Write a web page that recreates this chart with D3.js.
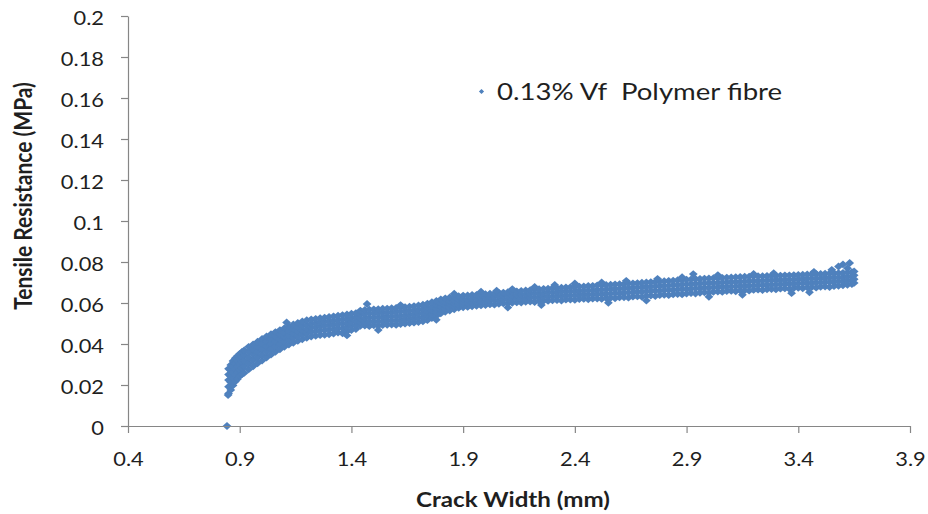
<!DOCTYPE html>
<html>
<head>
<meta charset="utf-8">
<script src="https://cdn.jsdelivr.net/npm/d3@7"></script>
<style>
  html, body { margin: 0; padding: 0; background: #fff; }
  svg { display: block; }
</style>
</head>
<body>
<div id="chart"></div>
<script>
// ---- data -------------------------------------------------------------------
const xTickValues = [0.4, 0.9, 1.4, 1.9, 2.4, 2.9, 3.4, 3.9];
const yTickValues = [0, 0.02, 0.04, 0.06, 0.08, 0.1, 0.12, 0.14, 0.16, 0.18, 0.2];
const yTickLabels = ["0", "0.02", "0.04", "0.06", "0.08", "0.1", "0.12", "0.14", "0.16", "0.18", "0.2"];

const seriesName = "0.13% Vf  Polymer fibre";
const xTitle = "Crack Width (mm)";
const yTitle = "Tensile Resistance (MPa)";

// each row: crack width (mm), then the tensile resistance readings (MPa) at that width
const bandRows = [
  [0.85, .0158, .0192, .0224, .0251, .0279],
  [0.86, .0176, .0213, .0243, .0271, .0298],
  [0.87, .0198, .0232, .0262, .0291, .0317],
  [0.88, .0217, .0249, .0278, .0306, .0331],
  [0.89, .0229, .0262, .0291, .0318, .0341],
  [0.90, .0243, .0274, .0302, .0329, .0352],
  [0.91, .0252, .0283, .0311, .0337, .0361],
  [0.92, .0259, .0291, .0319, .0346, .0369],
  [0.94, .0276, .0306, .0334, .0361, .0386],
  [0.96, .0291, .0321, .0349, .0374, .0398],
  [0.98, .0306, .0335, .0362, .0387, .0411],
  [1.00, .0319, .0348, .0375, .0401, .0425],
  [1.02, .0334, .0362, .0388, .0413, .0437],
  [1.04, .0348, .0376, .0401, .0425, .0448],
  [1.06, .0362, .0389, .0413, .0436, .0458],
  [1.08, .0374, .0401, .0424, .0447, .0468],
  [1.10, .0386, .0412, .0434, .0456, .0477],
  [1.12, .0397, .0421, .0443, .0464, .0486],
  [1.14, .0406, .0430, .0452, .0473, .0495],
  [1.16, .0415, .0438, .0460, .0481, .0503],
  [1.18, .0423, .0446, .0467, .0488, .0510],
  [1.20, .0430, .0452, .0473, .0494, .0516],
  [1.22, .0436, .0458, .0479, .0499, .0520],
  [1.24, .0440, .0462, .0483, .0503, .0523],
  [1.26, .0443, .0465, .0486, .0506, .0526],
  [1.28, .0445, .0468, .0489, .0509, .0529],
  [1.30, .0447, .0470, .0491, .0511, .0532],
  [1.32, .0451, .0473, .0494, .0514, .0535],
  [1.34, .0456, .0477, .0497, .0517, .0538],
  [1.36, .0452, .0476, .0499, .0520, .0541],
  [1.38, .0461, .0483, .0503, .0523, .0544],
  [1.40, .0468, .0489, .0508, .0527, .0548],
  [1.42, .0473, .0493, .0512, .0531, .0551],
  [1.44, .0488, .0506, .0525, .0545, .0563],
  [1.46, .0490, .0508, .0527, .0547, .0566],
  [1.48, .0487, .0507, .0528, .0549, .0568],
  [1.50, .0491, .0510, .0530, .0550, .0569],
  [1.52, .0489, .0509, .0530, .0551, .0570],
  [1.54, .0492, .0512, .0532, .0552, .0572],
  [1.56, .0494, .0513, .0533, .0553, .0573],
  [1.58, .0495, .0515, .0535, .0555, .0575],
  [1.60, .0493, .0514, .0535, .0556, .0576],
  [1.62, .0497, .0517, .0537, .0558, .0578],
  [1.64, .0499, .0519, .0539, .0560, .0580],
  [1.66, .0502, .0522, .0542, .0562, .0582],
  [1.68, .0504, .0524, .0544, .0564, .0585],
  [1.70, .0507, .0527, .0547, .0567, .0588],
  [1.72, .0511, .0531, .0551, .0571, .0592],
  [1.74, .0516, .0536, .0556, .0576, .0597],
  [1.76, .0526, .0545, .0563, .0582, .0604],
  [1.78, .0537, .0555, .0572, .0590, .0610],
  [1.80, .0549, .0566, .0582, .0598, .0618],
  [1.82, .0557, .0573, .0589, .0605, .0623],
  [1.84, .0563, .0578, .0594, .0609, .0627],
  [1.86, .0569, .0583, .0598, .0612, .0630],
  [1.88, .0576, .0589, .0602, .0616, .0633],
  [1.90, .0579, .0592, .0605, .0619, .0636],
  [1.92, .0581, .0599, .0617, .0637],
  [1.94, .0584, .0602, .0620, .0639],
  [1.96, .0586, .0604, .0622, .0640],
  [1.98, .0588, .0606, .0624, .0642],
  [2.00, .0590, .0608, .0626, .0643],
  [2.02, .0593, .0611, .0628, .0645],
  [2.04, .0592, .0612, .0630, .0647],
  [2.06, .0596, .0614, .0632, .0649],
  [2.08, .0598, .0616, .0634, .0651],
  [2.10, .0597, .0617, .0635, .0653],
  [2.12, .0601, .0619, .0637, .0655],
  [2.14, .0603, .0621, .0639, .0657],
  [2.16, .0602, .0622, .0640, .0659],
  [2.18, .0606, .0624, .0642, .0661],
  [2.20, .0607, .0626, .0644, .0663],
  [2.22, .0605, .0626, .0646, .0665],
  [2.24, .0609, .0628, .0647, .0667],
  [2.26, .0611, .0630, .0649, .0669],
  [2.28, .0610, .0631, .0651, .0670],
  [2.30, .0613, .0632, .0652, .0672],
  [2.32, .0614, .0634, .0653, .0673],
  [2.34, .0612, .0634, .0655, .0675],
  [2.36, .0616, .0636, .0656, .0676],
  [2.38, .0617, .0637, .0657, .0677],
  [2.40, .0615, .0637, .0658, .0679],
  [2.42, .0619, .0639, .0659, .0680],
  [2.44, .0620, .0640, .0660, .0681],
  [2.46, .0618, .0640, .0661, .0683],
  [2.48, .0621, .0642, .0662, .0684],
  [2.50, .0622, .0643, .0664, .0686],
  [2.52, .0620, .0643, .0665, .0687],
  [2.54, .0624, .0645, .0666, .0688],
  [2.56, .0625, .0646, .0668, .0689],
  [2.58, .0623, .0647, .0669, .0691],
  [2.60, .0627, .0648, .0670, .0692],
  [2.62, .0628, .0650, .0672, .0693],
  [2.64, .0626, .0651, .0673, .0695],
  [2.66, .0631, .0652, .0674, .0696],
  [2.68, .0632, .0654, .0676, .0697],
  [2.70, .0630, .0655, .0677, .0699],
  [2.72, .0634, .0656, .0678, .0700],
  [2.74, .0636, .0658, .0680, .0702],
  [2.76, .0634, .0659, .0681, .0703],
  [2.78, .0638, .0660, .0683, .0705],
  [2.80, .0640, .0662, .0684, .0706],
  [2.82, .0638, .0663, .0685, .0708],
  [2.84, .0642, .0664, .0687, .0709],
  [2.86, .0644, .0666, .0688, .0711],
  [2.88, .0642, .0667, .0690, .0712],
  [2.90, .0646, .0668, .0691, .0714],
  [2.92, .0648, .0670, .0692, .0715],
  [2.94, .0646, .0671, .0694, .0717],
  [2.96, .0650, .0672, .0695, .0718],
  [2.98, .0652, .0674, .0696, .0719],
  [3.00, .0650, .0675, .0697, .0720],
  [3.02, .0654, .0676, .0698, .0721],
  [3.04, .0656, .0677, .0699, .0722],
  [3.06, .0654, .0678, .0700, .0723],
  [3.08, .0658, .0679, .0701, .0724],
  [3.10, .0659, .0680, .0702, .0725],
  [3.12, .0657, .0681, .0703, .0726],
  [3.14, .0661, .0682, .0704, .0727],
  [3.16, .0662, .0683, .0705, .0728],
  [3.18, .0660, .0684, .0706, .0729],
  [3.20, .0664, .0685, .0707, .0730],
  [3.22, .0665, .0686, .0708, .0731],
  [3.24, .0663, .0687, .0709, .0731],
  [3.26, .0667, .0688, .0710, .0732],
  [3.28, .0668, .0689, .0711, .0733],
  [3.30, .0666, .0690, .0712, .0733],
  [3.32, .0670, .0691, .0712, .0734],
  [3.34, .0671, .0692, .0713, .0735],
  [3.36, .0669, .0693, .0714, .0735],
  [3.38, .0673, .0694, .0715, .0736],
  [3.40, .0674, .0695, .0716, .0737],
  [3.42, .0672, .0696, .0717, .0738],
  [3.44, .0676, .0697, .0718, .0739],
  [3.46, .0677, .0698, .0719, .0740],
  [3.48, .0675, .0699, .0720, .0741],
  [3.50, .0679, .0700, .0721, .0742],
  [3.52, .0680, .0701, .0722, .0743],
  [3.54, .0678, .0702, .0723, .0744],
  [3.56, .0682, .0703, .0724, .0745],
  [3.58, .0684, .0705, .0725, .0746],
  [3.60, .0686, .0706, .0726, .0747],
  [3.62, .0689, .0708, .0728, .0749],
  [3.64, .0692, .0711, .0731, .0751],
  [3.65, .0698, .0716, .0735, .0754]
];

// scattered readings above / below the main band
const strayPoints = [
  [0.843, 0.0], [0.848, 0.0151],
  [1.11, 0.0505], [1.47, 0.0595], [1.62, 0.0590], [1.86, 0.0645], [1.98, 0.0655],
  [2.05, 0.0660], [2.12, 0.0668], [2.22, 0.0678], [2.31, 0.0688], [2.40, 0.0695],
  [2.52, 0.0700], [2.63, 0.0708], [2.77, 0.0718], [2.88, 0.0726], [2.93, 0.0741],
  [3.04, 0.0736], [3.20, 0.0742], [3.29, 0.0745], [3.47, 0.0752], [3.55, 0.0762],
  [3.58, 0.0778], [3.60, 0.0788], [3.63, 0.0795], [3.62, 0.0770],
  [1.38, 0.0442], [1.52, 0.0468], [1.78, 0.0518], [2.10, 0.0578], [2.25, 0.0590],
  [2.55, 0.0601], [2.72, 0.0612], [3.00, 0.0630], [3.15, 0.0640], [3.37, 0.0648],
  [3.45, 0.0652]
];

// ---- layout ------------------------------------------------------------------
const width = 928, height = 514;
const plot = {left: 128, right: 910, top: 16, bottom: 426};
const axisColor = "#868686";
const textColor = "#1f1f1f";
const markColor = "#4F81BD";
const stretch = 1.15;   // picture text is slightly wide
const fontFamily = "Lato, 'Open Sans', sans-serif";

const x = d3.scaleLinear([0.4, 3.9], [plot.left, plot.right]);
const y = d3.scaleLinear([0, 0.2], [plot.bottom, plot.top]);

const points = bandRows
  .flatMap(r => r.slice(1).map(v => [r[0], v]))
  .concat(strayPoints);

const diamond = (w, h) => `M0,${-h}L${w},0L0,${h}L${-w},0Z`;

const svg = d3.select("#chart").append("svg")
  .attr("width", width)
  .attr("height", height)
  .attr("viewBox", [0, 0, width, height])
  .style("background", "#fff")
  .attr("font-family", fontFamily);

// ---- points ------------------------------------------------------------------
svg.append("g")
  .attr("fill", markColor)
  .selectAll("path")
  .data(points)
  .join("path")
  .attr("transform", d => `translate(${x(d[0])},${y(d[1])})`)
  .attr("d", diamond(4.4, 3.9));

// ---- y axis ------------------------------------------------------------------
const gy = svg.append("g")
  .attr("transform", `translate(${plot.left},0)`)
  .call(d3.axisLeft(y)
    .tickValues(yTickValues)
    .tickFormat((d, i) => yTickLabels[i])
    .tickSize(7)
    .tickSizeOuter(0));
gy.select(".domain").attr("stroke", axisColor).attr("stroke-width", 1.2);
gy.selectAll(".tick line").attr("stroke", axisColor).attr("stroke-width", 1.2);
gy.selectAll(".tick text")
  .attr("x", 0).attr("dy", null)
  .attr("transform", `translate(-24,8) scale(${stretch},1)`)
  .attr("fill", textColor)
  .attr("font-size", 19)
  .attr("font-family", fontFamily);

// ---- x axis ------------------------------------------------------------------
const gx = svg.append("g")
  .attr("transform", `translate(0,${plot.bottom})`)
  .call(d3.axisBottom(x)
    .tickValues(xTickValues)
    .tickFormat(d3.format(".1f"))
    .tickSize(7)
    .tickSizeOuter(0));
gx.select(".domain").attr("stroke", axisColor).attr("stroke-width", 1.2);
gx.selectAll(".tick line").attr("stroke", axisColor).attr("stroke-width", 1.2);
gx.selectAll(".tick text")
  .attr("y", 0).attr("dy", null)
  .attr("transform", `translate(0,40) scale(${stretch},1)`)
  .attr("fill", textColor)
  .attr("font-size", 19)
  .attr("font-family", fontFamily);

// ---- axis titles -------------------------------------------------------------
svg.append("text")
  .attr("transform", `translate(513,507) scale(${stretch},1)`)
  .attr("text-anchor", "middle")
  .attr("font-weight", "bold")
  .attr("font-size", 21)
  .attr("fill", textColor)
  .text(xTitle);

svg.append("text")
  .attr("transform", `translate(32,196) scale(${stretch},1) rotate(-90)`)
  .attr("text-anchor", "middle")
  .attr("font-weight", "bold")
  .attr("font-size", 21)
  .attr("fill", textColor)
  .text(yTitle);

// ---- legend ------------------------------------------------------------------
const legend = svg.append("g").attr("transform", "translate(481.5,91.5)");
legend.append("path")
  .attr("d", diamond(2.6, 2.4))
  .attr("fill", markColor);
legend.append("text")
  .attr("transform", `translate(15.5,8.5) scale(1.2,1)`)
  .style("white-space", "pre")
  .attr("font-size", 23)
  .attr("fill", textColor)
  .text(seriesName);
</script>
</body>
</html>
